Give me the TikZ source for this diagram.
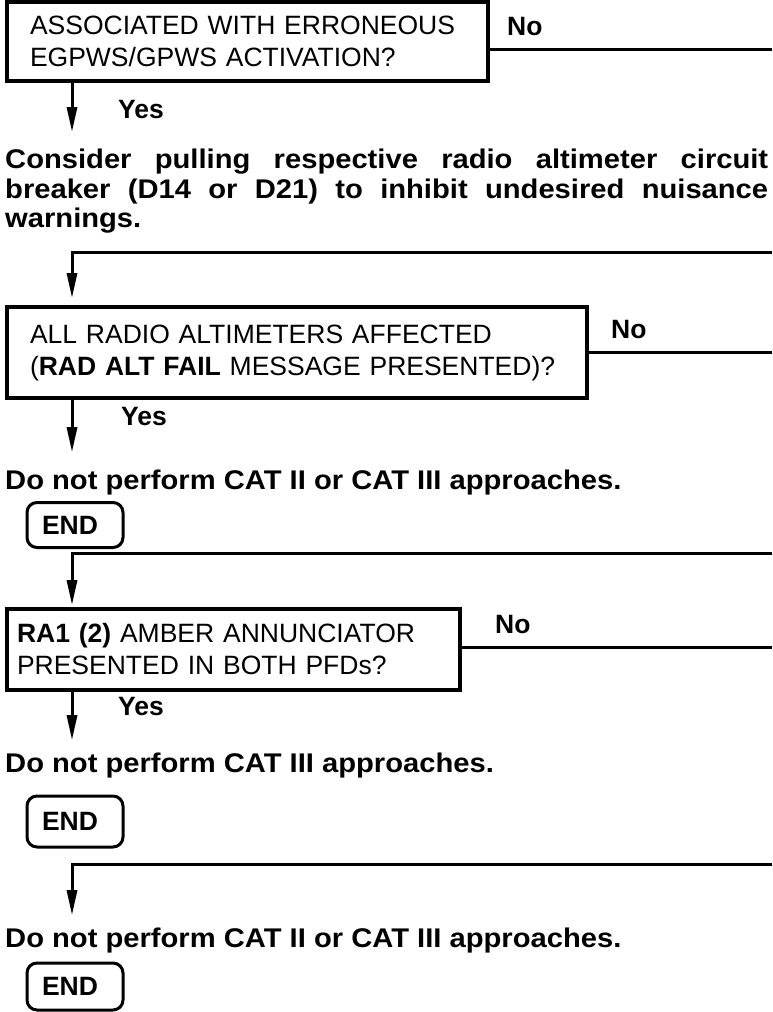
\documentclass[tikz,border=0pt]{standalone}
\usepackage{fontspec}
\setmainfont{Liberation Sans}
\newfontfamily\bodyfont[FakeStretch=1.08]{Liberation Sans}
\usepackage{tikz}
\usetikzlibrary{arrows.meta, calc}
\tolerance=9999
\hyphenpenalty=10000

\begin{document}
\begin{tikzpicture}[
            x=1pt, y=-1pt,
            wire/.style={line width=3pt},
            flowarrow/.style={line width=3pt, -{Triangle[length=25pt, width=10pt]}},
            qbox/.style={draw, line width=3.8pt, align=left, inner ysep=0pt, font=\fontsize{26.5}{32}\selectfont},
            endbox/.style={draw, line width=3pt, rounded corners=10pt, align=left, text width=66pt, inner xsep=15pt, font=\fontsize{26.5}{32}\selectfont\bfseries},
            lbl/.style={inner sep=0pt, anchor=base west, font=\fontsize{26.5}{32}\selectfont\bfseries},
            instr/.style={inner sep=0pt, anchor=base west, font=\bodyfont\fontsize{27}{29.5}\selectfont\bfseries}
        ]

        \useasboundingbox (0,0) rectangle (772,1012);

        % 1. X-coordinates (main flow line and right page edge)
        \def\lx{72}
        \def\rx{772}
        \coordinate (lx) at (\lx, 0);

        % 2. Y-coordinates of the lines that leave / enter at the right edge
        \coordinate (n1) at (\rx, 49);
        \coordinate (j1) at (\rx, 252);
        \coordinate (n2) at (\rx, 352);
        \coordinate (j2) at (\rx, 553);
        \coordinate (n3) at (\rx, 647);
        \coordinate (j3) at (\rx, 864);

        % --- QUESTION 1 ---
        \node[qbox, text width=435pt, inner xsep=23pt, minimum height=79pt] (q1) at (247.5, 41.5) {ASSOCIATED WITH ERRONEOUS\\EGPWS/GPWS ACTIVATION?};
        \node[lbl] (no1) at (507, 35) {No};
        \node[lbl] (yes1) at (118, 118) {Yes};

        \node[instr, anchor=north west, text width=763pt, align=justify] (s1) at (5, 149) {Consider pulling respective radio altimeter circuit breaker (D14 or D21) to inhibit undesired nuisance warnings.};

        \draw[wire] (q1.east |- n1) -- (n1);
        \draw[flowarrow, shorten >=17pt] (q1.south -| lx) -- (s1.north -| lx);

        % --- QUESTION 2 ---
        \node[qbox, text width=534pt, inner xsep=23pt, minimum height=91pt] (q2) at (297, 352.5) {ALL RADIO ALTIMETERS AFFECTED\\(\textbf{RAD ALT FAIL} MESSAGE PRESENTED)?};
        \node[lbl] (no2) at (611, 338) {No};
        \node[lbl] (yes2) at (121, 425) {Yes};

        \node[instr] (s2) at (5, 489) {Do not perform CAT II or CAT III approaches.};
        \node[endbox, minimum height=45pt] (e1) at (75, 525) {END};

        \draw[flowarrow, shorten >=7pt] (j1) -| (q2.north -| lx);
        \draw[wire] (q2.east |- n2) -- (n2);
        \draw[flowarrow, shorten >=17pt] (q2.south -| lx) -- (s2.north -| lx);

        % --- QUESTION 3 ---
        \node[qbox, text width=433pt, inner xsep=10pt, minimum height=81pt] (q3) at (233.5, 649.5) {\textbf{RA1 (2)} AMBER ANNUNCIATOR\\PRESENTED IN BOTH PFDs?};
        \node[lbl] (no3) at (495, 633) {No};
        \node[lbl] (yes3) at (118, 715) {Yes};

        \node[instr] (s3) at (5, 772) {Do not perform CAT III approaches.};
        \node[endbox, minimum height=51pt] (e2) at (75, 821.5) {END};

        \draw[flowarrow, shorten >=2pt] (j2) -| (q3.north -| lx);
        \draw[wire] (q3.east |- n3) -- (n3);
        \draw[flowarrow, shorten >=12pt] (q3.south -| lx) -- (s3.north -| lx);

        % --- FINAL STEP ---
        \node[instr] (s4) at (5, 947) {Do not perform CAT II or CAT III approaches.};
        \node[endbox, minimum height=47pt] (e3) at (75, 986.5) {END};

        \draw[flowarrow, shorten >=12pt] (j3) -| (s4.north -| lx);

        \end{tikzpicture}
\end{document}
